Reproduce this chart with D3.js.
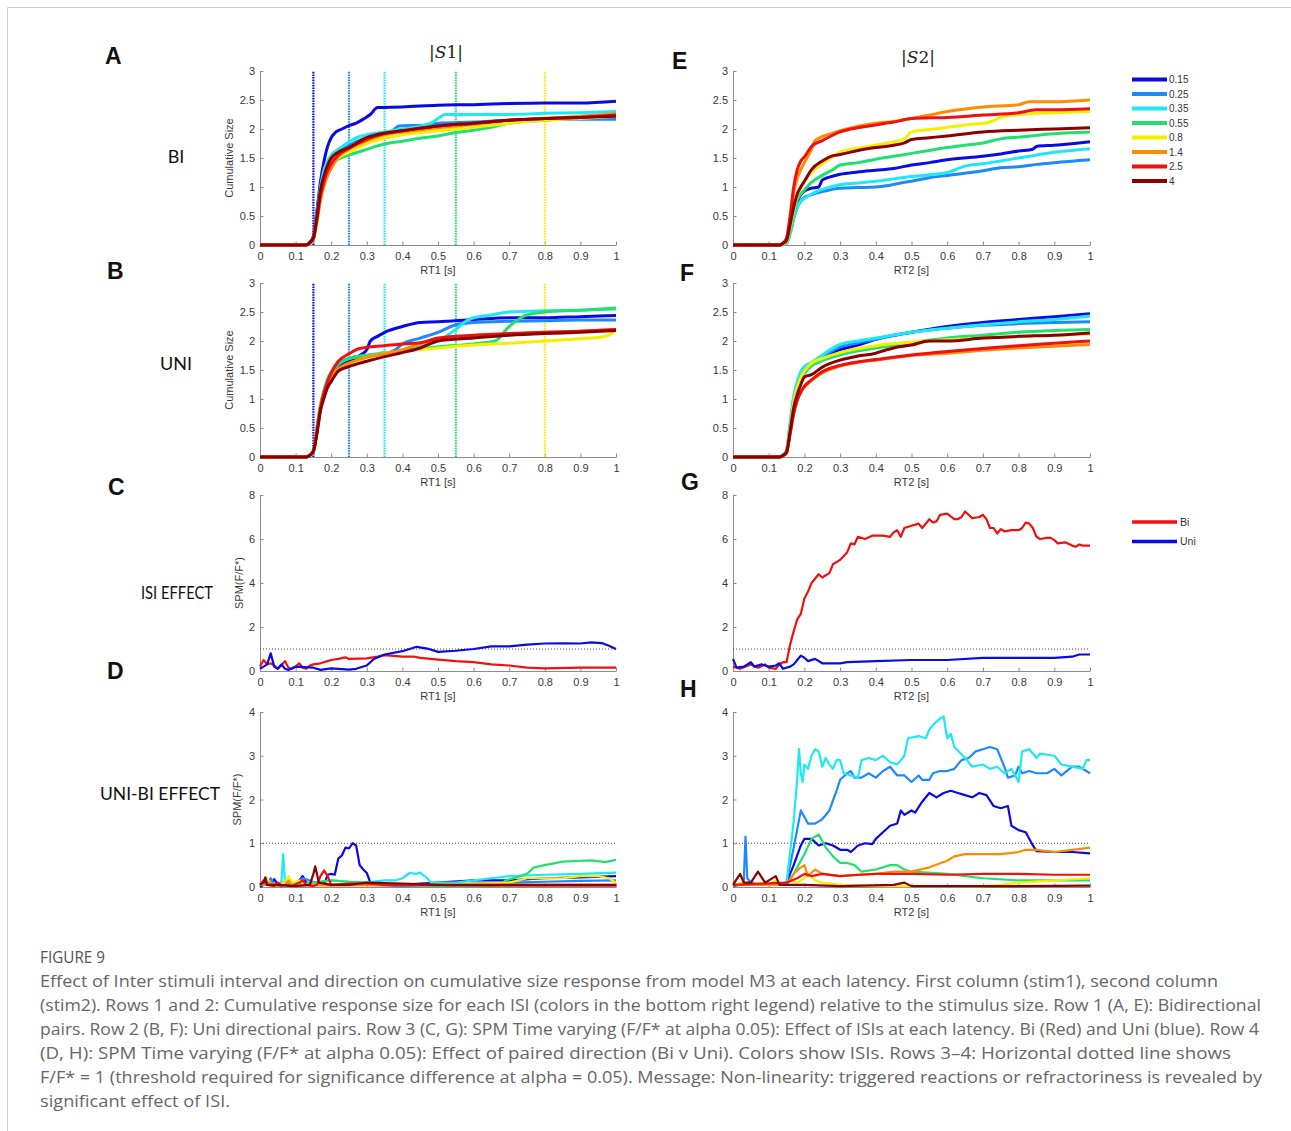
<!DOCTYPE html>
<html lang="en">
<head>
<meta charset="UTF-8">
<title>Figure 9</title>
<script src="https://d3js.org/d3.v7.min.js"></script>
<style>
  body { margin: 0; background: #fff; }
  svg { display: block; font-family: "Liberation Sans", Arial, sans-serif; }
  .axis path, .axis line { stroke: #8c8c8c; }
  .axis text { fill: #383838; font-size: 11px; font-family: "Liberation Sans", Arial, sans-serif; }
</style>
</head>
<body>
<script>
// ISI levels and the colours used for them
const isiLevels = [0.15, 0.25, 0.35, 0.55, 0.8, 1.4, 2.5, 4];
const isiColors = ["#0a0ae6", "#1e88ff", "#1ee8f2", "#22e070", "#f5ef00", "#ff8c00", "#f01010", "#8b0000"];
const xTicks = [0, 0.1, 0.2, 0.3, 0.4, 0.5, 0.6, 0.7, 0.8, 0.9, 1];
const cumTicks = [0, 0.5, 1, 1.5, 2, 2.5, 3];
const spmTicks = [0, 2, 4, 6, 8];
const dirTicks = [0, 1, 2, 3, 4];

// Row 1, S1 : cumulative size, bidirectional
const cumBiS1 = [
  [[0,0],[0.13,0],[0.14,0.05],[0.15,0.15],[0.16,0.6],[0.17,1.1],[0.18,1.45],[0.19,1.7],[0.2,1.85],[0.21,1.93],[0.23,2.0],[0.25,2.06],[0.27,2.1],[0.29,2.17],[0.31,2.25],[0.33,2.37],[0.4,2.38],[0.5,2.41],[0.6,2.42],[0.7,2.44],[0.8,2.45],[0.9,2.45],[1,2.48]],
  [[0,0],[0.13,0],[0.14,0.04],[0.15,0.12],[0.16,0.5],[0.17,0.95],[0.18,1.2],[0.19,1.38],[0.2,1.5],[0.22,1.6],[0.25,1.72],[0.3,1.85],[0.35,1.92],[0.37,1.96],[0.39,2.05],[0.42,2.06],[0.45,2.06],[0.5,2.1],[0.6,2.12],[0.7,2.15],[0.8,2.16],[0.9,2.17],[1,2.17]],
  [[0,0],[0.13,0],[0.14,0.04],[0.15,0.12],[0.16,0.55],[0.17,1.0],[0.18,1.3],[0.19,1.45],[0.2,1.55],[0.22,1.65],[0.25,1.78],[0.28,1.87],[0.3,1.9],[0.35,1.95],[0.4,2.0],[0.45,2.05],[0.48,2.1],[0.5,2.18],[0.52,2.25],[0.6,2.25],[0.7,2.25],[0.8,2.27],[0.9,2.28],[1,2.3]],
  [[0,0],[0.13,0],[0.14,0.03],[0.15,0.1],[0.16,0.45],[0.17,0.85],[0.18,1.1],[0.19,1.28],[0.2,1.38],[0.22,1.48],[0.25,1.55],[0.3,1.65],[0.35,1.74],[0.4,1.79],[0.45,1.84],[0.5,1.88],[0.55,1.94],[0.6,1.98],[0.65,2.03],[0.7,2.1],[0.8,2.15],[0.9,2.2],[1,2.22]],
  [[0,0],[0.13,0],[0.14,0.03],[0.15,0.1],[0.16,0.4],[0.17,0.8],[0.18,1.05],[0.19,1.22],[0.2,1.35],[0.22,1.5],[0.25,1.6],[0.3,1.75],[0.35,1.84],[0.4,1.9],[0.5,1.97],[0.6,2.03],[0.7,2.1],[0.8,2.15],[0.9,2.18],[1,2.22]],
  [[0,0],[0.13,0],[0.14,0.03],[0.15,0.1],[0.16,0.4],[0.17,0.78],[0.18,1.02],[0.19,1.2],[0.2,1.32],[0.22,1.52],[0.25,1.65],[0.3,1.8],[0.35,1.9],[0.4,1.95],[0.5,2.02],[0.6,2.08],[0.7,2.15],[0.8,2.18],[0.9,2.22],[1,2.26]],
  [[0,0],[0.13,0],[0.14,0.04],[0.15,0.12],[0.16,0.45],[0.17,0.85],[0.18,1.1],[0.19,1.28],[0.2,1.4],[0.22,1.55],[0.25,1.67],[0.3,1.82],[0.35,1.92],[0.4,1.97],[0.5,2.05],[0.6,2.1],[0.7,2.15],[0.8,2.18],[0.9,2.2],[1,2.24]],
  [[0,0],[0.13,0],[0.14,0.04],[0.15,0.12],[0.16,0.5],[0.17,0.95],[0.18,1.2],[0.19,1.38],[0.2,1.5],[0.22,1.6],[0.25,1.68],[0.3,1.85],[0.35,1.93],[0.4,1.97],[0.5,2.05],[0.6,2.1],[0.7,2.15],[0.8,2.18],[0.9,2.2],[1,2.22]]
];

// Row 1, S2 : cumulative size, bidirectional
const cumBiS2 = [
  [[0,0],[0.13,0],[0.14,0.02],[0.15,0.05],[0.16,0.25],[0.17,0.55],[0.18,0.75],[0.19,0.87],[0.2,0.93],[0.22,0.98],[0.24,1.0],[0.25,1.12],[0.27,1.17],[0.3,1.22],[0.35,1.26],[0.4,1.29],[0.45,1.32],[0.5,1.38],[0.55,1.42],[0.6,1.47],[0.7,1.53],[0.75,1.57],[0.8,1.62],[0.84,1.65],[0.85,1.7],[0.9,1.72],[1,1.78]],
  [[0,0],[0.13,0],[0.14,0.01],[0.15,0.03],[0.16,0.2],[0.17,0.45],[0.18,0.65],[0.19,0.76],[0.2,0.82],[0.22,0.87],[0.25,0.92],[0.3,0.98],[0.35,0.99],[0.4,1.0],[0.43,1.02],[0.47,1.07],[0.5,1.1],[0.55,1.16],[0.6,1.2],[0.7,1.28],[0.75,1.33],[0.8,1.35],[0.85,1.39],[0.9,1.42],[1,1.47]],
  [[0,0],[0.13,0],[0.14,0.01],[0.15,0.03],[0.16,0.2],[0.17,0.45],[0.18,0.65],[0.19,0.75],[0.2,0.8],[0.22,0.88],[0.25,0.96],[0.3,1.04],[0.35,1.07],[0.4,1.1],[0.45,1.14],[0.5,1.18],[0.55,1.21],[0.6,1.25],[0.65,1.36],[0.7,1.4],[0.75,1.45],[0.8,1.5],[0.85,1.55],[0.9,1.6],[0.95,1.63],[1,1.66]],
  [[0,0],[0.13,0],[0.14,0.02],[0.15,0.05],[0.16,0.25],[0.17,0.55],[0.18,0.78],[0.19,0.88],[0.2,0.95],[0.22,1.08],[0.25,1.2],[0.28,1.3],[0.3,1.38],[0.35,1.42],[0.4,1.48],[0.45,1.53],[0.5,1.58],[0.55,1.63],[0.6,1.68],[0.65,1.72],[0.7,1.76],[0.75,1.83],[0.8,1.86],[0.9,1.92],[1,1.95]],
  [[0,0],[0.13,0],[0.14,0.02],[0.15,0.05],[0.16,0.3],[0.17,0.6],[0.18,0.85],[0.19,1.0],[0.2,1.1],[0.22,1.25],[0.25,1.4],[0.28,1.52],[0.3,1.6],[0.35,1.67],[0.4,1.72],[0.45,1.78],[0.48,1.83],[0.5,1.95],[0.55,1.99],[0.6,2.03],[0.65,2.07],[0.7,2.1],[0.72,2.12],[0.75,2.2],[0.8,2.25],[0.9,2.28],[1,2.3]],
  [[0,0],[0.13,0],[0.14,0.03],[0.15,0.1],[0.16,0.45],[0.17,0.9],[0.18,1.15],[0.19,1.3],[0.2,1.42],[0.22,1.65],[0.23,1.8],[0.25,1.87],[0.28,1.93],[0.3,1.97],[0.35,2.05],[0.4,2.1],[0.45,2.13],[0.5,2.18],[0.55,2.24],[0.6,2.3],[0.7,2.38],[0.8,2.42],[0.83,2.47],[0.9,2.47],[1,2.5]],
  [[0,0],[0.13,0],[0.14,0.03],[0.15,0.12],[0.16,0.5],[0.17,1.0],[0.18,1.3],[0.19,1.45],[0.2,1.52],[0.22,1.7],[0.25,1.8],[0.3,1.95],[0.33,2.0],[0.4,2.07],[0.45,2.12],[0.5,2.18],[0.6,2.2],[0.7,2.24],[0.8,2.28],[0.85,2.33],[0.9,2.33],[1,2.35]],
  [[0,0],[0.13,0],[0.14,0.03],[0.15,0.08],[0.16,0.35],[0.17,0.65],[0.18,0.88],[0.19,1.0],[0.2,1.1],[0.22,1.3],[0.25,1.45],[0.28,1.54],[0.3,1.56],[0.35,1.63],[0.4,1.68],[0.45,1.72],[0.48,1.76],[0.5,1.82],[0.55,1.85],[0.6,1.88],[0.7,1.95],[0.8,1.98],[0.9,2.0],[1,2.02]]
];

// Row 2, S1 : cumulative size, unidirectional
const cumUniS1 = [
  [[0,0],[0.13,0],[0.14,0.03],[0.15,0.1],[0.16,0.45],[0.17,0.85],[0.18,1.1],[0.19,1.28],[0.2,1.4],[0.22,1.55],[0.25,1.65],[0.28,1.75],[0.3,1.85],[0.31,2.0],[0.33,2.08],[0.35,2.15],[0.4,2.25],[0.45,2.32],[0.5,2.33],[0.6,2.37],[0.7,2.4],[0.8,2.4],[0.9,2.42],[1,2.44]],
  [[0,0],[0.13,0],[0.14,0.03],[0.15,0.1],[0.16,0.45],[0.17,0.85],[0.18,1.12],[0.19,1.3],[0.2,1.42],[0.22,1.6],[0.25,1.7],[0.3,1.75],[0.35,1.78],[0.38,1.85],[0.4,1.95],[0.45,2.05],[0.5,2.15],[0.55,2.28],[0.6,2.32],[0.7,2.34],[0.8,2.35],[0.9,2.36],[1,2.36]],
  [[0,0],[0.13,0],[0.14,0.03],[0.15,0.1],[0.16,0.5],[0.17,0.9],[0.18,1.15],[0.19,1.33],[0.2,1.45],[0.22,1.6],[0.25,1.7],[0.3,1.75],[0.35,1.8],[0.4,1.83],[0.45,1.9],[0.5,2.0],[0.55,2.2],[0.58,2.35],[0.6,2.4],[0.65,2.45],[0.7,2.5],[0.8,2.52],[0.9,2.53],[1,2.55]],
  [[0,0],[0.13,0],[0.14,0.03],[0.15,0.1],[0.16,0.5],[0.17,0.9],[0.18,1.15],[0.19,1.35],[0.2,1.47],[0.22,1.6],[0.25,1.7],[0.3,1.75],[0.35,1.78],[0.4,1.82],[0.5,1.9],[0.6,1.95],[0.66,2.0],[0.7,2.25],[0.75,2.45],[0.8,2.5],[0.9,2.53],[1,2.57]],
  [[0,0],[0.13,0],[0.14,0.03],[0.15,0.1],[0.16,0.45],[0.17,0.85],[0.18,1.1],[0.19,1.28],[0.2,1.38],[0.22,1.5],[0.25,1.6],[0.3,1.72],[0.35,1.78],[0.4,1.82],[0.5,1.88],[0.6,1.93],[0.7,1.96],[0.8,2.0],[0.9,2.04],[0.96,2.07],[0.98,2.1],[1,2.2]],
  [[0,0],[0.13,0],[0.14,0.03],[0.15,0.1],[0.16,0.45],[0.17,0.85],[0.18,1.1],[0.19,1.27],[0.2,1.38],[0.22,1.52],[0.25,1.62],[0.3,1.72],[0.35,1.78],[0.4,1.85],[0.45,1.95],[0.5,2.02],[0.6,2.08],[0.7,2.12],[0.8,2.15],[0.9,2.17],[1,2.2]],
  [[0,0],[0.13,0],[0.14,0.03],[0.15,0.1],[0.16,0.45],[0.17,0.85],[0.18,1.12],[0.19,1.3],[0.2,1.45],[0.22,1.65],[0.25,1.78],[0.28,1.87],[0.35,1.92],[0.4,1.95],[0.45,1.97],[0.5,2.05],[0.6,2.1],[0.7,2.13],[0.8,2.15],[0.9,2.17],[1,2.2]],
  [[0,0],[0.13,0],[0.14,0.03],[0.15,0.1],[0.16,0.4],[0.17,0.8],[0.18,1.02],[0.19,1.2],[0.2,1.3],[0.22,1.48],[0.25,1.56],[0.3,1.65],[0.35,1.73],[0.4,1.8],[0.45,1.88],[0.5,2.0],[0.6,2.05],[0.7,2.1],[0.8,2.13],[0.9,2.15],[1,2.18]]
];

// Row 2, S2 : cumulative size, unidirectional
const cumUniS2 = [
  [[0,0],[0.13,0],[0.14,0.03],[0.15,0.1],[0.16,0.5],[0.17,0.95],[0.18,1.2],[0.19,1.35],[0.2,1.45],[0.22,1.6],[0.25,1.72],[0.3,1.85],[0.35,1.93],[0.4,2.03],[0.5,2.15],[0.6,2.25],[0.7,2.32],[0.8,2.37],[0.9,2.42],[1,2.47]],
  [[0,0],[0.13,0],[0.14,0.03],[0.15,0.1],[0.16,0.55],[0.17,1.0],[0.18,1.25],[0.19,1.42],[0.2,1.52],[0.22,1.62],[0.25,1.73],[0.3,1.9],[0.35,1.97],[0.4,2.03],[0.5,2.15],[0.6,2.22],[0.7,2.27],[0.8,2.3],[0.9,2.32],[1,2.33]],
  [[0,0],[0.13,0],[0.14,0.03],[0.15,0.12],[0.16,0.6],[0.17,1.05],[0.18,1.3],[0.19,1.47],[0.2,1.56],[0.22,1.63],[0.25,1.76],[0.3,1.94],[0.35,2.0],[0.4,2.05],[0.5,2.15],[0.6,2.22],[0.7,2.28],[0.8,2.33],[0.9,2.37],[1,2.43]],
  [[0,0],[0.13,0],[0.14,0.03],[0.15,0.1],[0.16,0.5],[0.17,0.95],[0.18,1.2],[0.19,1.35],[0.2,1.45],[0.22,1.57],[0.25,1.66],[0.3,1.76],[0.35,1.83],[0.4,1.88],[0.5,1.97],[0.6,2.05],[0.7,2.1],[0.8,2.15],[0.9,2.18],[1,2.2]],
  [[0,0],[0.13,0],[0.14,0.03],[0.15,0.1],[0.16,0.5],[0.17,0.95],[0.18,1.2],[0.19,1.37],[0.2,1.48],[0.22,1.62],[0.25,1.7],[0.3,1.8],[0.35,1.87],[0.4,1.92],[0.5,1.98],[0.6,2.02],[0.7,2.05],[0.8,2.08],[0.9,2.1],[1,2.12]],
  [[0,0],[0.13,0],[0.14,0.02],[0.15,0.08],[0.16,0.4],[0.17,0.75],[0.18,0.98],[0.19,1.12],[0.2,1.2],[0.22,1.32],[0.25,1.45],[0.3,1.57],[0.35,1.63],[0.4,1.67],[0.5,1.75],[0.6,1.79],[0.7,1.84],[0.8,1.88],[0.9,1.91],[1,1.94]],
  [[0,0],[0.13,0],[0.14,0.02],[0.15,0.08],[0.16,0.4],[0.17,0.75],[0.18,0.98],[0.19,1.12],[0.2,1.22],[0.22,1.33],[0.25,1.47],[0.3,1.58],[0.35,1.64],[0.4,1.68],[0.5,1.76],[0.6,1.82],[0.7,1.87],[0.8,1.92],[0.9,1.96],[1,2.0]],
  [[0,0],[0.13,0],[0.14,0.03],[0.15,0.08],[0.16,0.45],[0.17,0.85],[0.18,1.08],[0.19,1.25],[0.2,1.38],[0.22,1.42],[0.25,1.55],[0.3,1.67],[0.35,1.74],[0.4,1.79],[0.43,1.85],[0.45,1.88],[0.5,1.93],[0.55,2.0],[0.6,2.0],[0.7,2.05],[0.8,2.08],[0.9,2.1],[1,2.14]]
];

// Row 3 : SPM F/F* for the ISI effect, Bi (first) and Uni (second)
const dirNames = ["Bi", "Uni"];
const dirColors = ["#f01010", "#0a0ae6"];
const isiS1 = [
  [[0,0.2],[0.01,0.5],[0.02,0.3],[0.03,0.35],[0.04,0.25],[0.05,0.1],[0.06,0.25],[0.07,0.45],[0.08,0.15],[0.09,0.1],[0.1,0.2],[0.11,0.35],[0.12,0.15],[0.13,0.1],[0.14,0.25],[0.15,0.3],[0.17,0.35],[0.19,0.45],[0.2,0.5],[0.22,0.55],[0.24,0.62],[0.25,0.55],[0.3,0.57],[0.33,0.65],[0.35,0.72],[0.4,0.65],[0.43,0.66],[0.45,0.6],[0.5,0.52],[0.55,0.45],[0.6,0.4],[0.65,0.3],[0.7,0.25],[0.75,0.15],[0.8,0.12],[0.9,0.15],[1,0.15]],
  [[0,0.1],[0.01,0.2],[0.02,0.3],[0.03,0.8],[0.04,0.2],[0.05,0.1],[0.06,0.3],[0.07,0.1],[0.08,0.05],[0.1,0.2],[0.15,0.15],[0.17,0.05],[0.2,0.12],[0.25,0.06],[0.27,0.1],[0.3,0.25],[0.32,0.55],[0.35,0.75],[0.4,0.9],[0.44,1.1],[0.47,1.02],[0.5,0.87],[0.55,0.92],[0.6,1.0],[0.65,1.12],[0.7,1.12],[0.75,1.2],[0.8,1.25],[0.85,1.26],[0.9,1.25],[0.93,1.3],[0.96,1.27],[0.98,1.15],[1,1.0]]
];
const isiS2 = [
  [[0,0.2],[0.02,0.1],[0.05,0.3],[0.07,0.15],[0.09,0.3],[0.1,0.15],[0.12,0.1],[0.13,0.3],[0.14,0.4],[0.15,0.4],[0.16,1.2],[0.17,1.8],[0.18,2.35],[0.19,2.6],[0.2,3.3],[0.21,3.6],[0.22,4.0],[0.24,4.4],[0.25,4.25],[0.26,4.35],[0.27,4.45],[0.28,4.85],[0.3,5.05],[0.32,5.4],[0.33,5.8],[0.34,5.75],[0.35,6.1],[0.37,6.0],[0.39,6.15],[0.42,6.15],[0.44,6.1],[0.45,6.3],[0.46,6.4],[0.47,6.1],[0.48,6.5],[0.5,6.6],[0.52,6.7],[0.53,6.5],[0.55,6.9],[0.56,6.75],[0.57,6.8],[0.58,7.1],[0.6,7.15],[0.62,6.9],[0.63,6.9],[0.64,7.0],[0.65,7.25],[0.66,7.1],[0.67,6.95],[0.69,7.0],[0.7,7.1],[0.71,6.9],[0.72,6.5],[0.73,6.5],[0.74,6.25],[0.75,6.45],[0.76,6.35],[0.78,6.4],[0.8,6.4],[0.81,6.5],[0.82,6.75],[0.83,6.7],[0.84,6.5],[0.85,6.1],[0.86,6.0],[0.88,6.05],[0.89,6.05],[0.9,5.95],[0.91,5.8],[0.93,5.85],[0.95,5.7],[0.96,5.65],[0.97,5.75],[0.98,5.7],[1,5.7]],
  [[0,0.55],[0.01,0.15],[0.03,0.2],[0.05,0.4],[0.06,0.2],[0.08,0.3],[0.1,0.2],[0.12,0.25],[0.13,0.35],[0.14,0.1],[0.16,0.2],[0.17,0.3],[0.18,0.5],[0.19,0.7],[0.2,0.6],[0.21,0.45],[0.23,0.55],[0.25,0.35],[0.27,0.35],[0.3,0.35],[0.32,0.4],[0.4,0.45],[0.5,0.5],[0.6,0.5],[0.7,0.6],[0.8,0.6],[0.9,0.6],[0.95,0.65],[0.97,0.75],[1,0.75]]
];

// Row 4 : SPM F/F* for the paired direction effect, one series per ISI
const dirS1 = [
  [[0,0],[0.01,0.05],[0.02,0.12],[0.03,0.05],[0.04,0.18],[0.05,0.05],[0.06,0.02],[0.08,0.1],[0.1,0.05],[0.11,0.15],[0.12,0.25],[0.13,0.1],[0.15,0.08],[0.17,0.1],[0.18,0.05],[0.19,0.28],[0.2,0.3],[0.21,0.28],[0.22,0.65],[0.23,0.72],[0.24,0.9],[0.25,0.88],[0.26,1.0],[0.27,0.95],[0.28,0.5],[0.29,0.4],[0.3,0.32],[0.31,0.1],[0.33,0.12],[0.35,0.06],[0.4,0.05],[0.45,0.08],[0.5,0.1],[0.6,0.15],[0.7,0.15],[0.8,0.2],[0.9,0.22],[1,0.25]],
  [[0,0.05],[0.02,0.08],[0.03,0.2],[0.04,0.05],[0.06,0.1],[0.1,0.08],[0.11,0.15],[0.12,0.2],[0.14,0.15],[0.16,0.08],[0.2,0.05],[0.3,0.05],[0.4,0.02],[0.5,0.05],[0.6,0.08],[0.7,0.1],[0.8,0.12],[0.9,0.14],[1,0.15]],
  [[0,0.1],[0.02,0.15],[0.04,0.05],[0.06,0.08],[0.065,0.75],[0.07,0.15],[0.08,0.05],[0.1,0.05],[0.15,0.1],[0.2,0.15],[0.25,0.12],[0.3,0.1],[0.35,0.15],[0.38,0.15],[0.4,0.2],[0.42,0.32],[0.44,0.3],[0.45,0.33],[0.47,0.2],[0.48,0.1],[0.55,0.1],[0.6,0.15],[0.65,0.2],[0.7,0.25],[0.8,0.28],[0.9,0.3],[1,0.33]],
  [[0,0.05],[0.05,0.05],[0.1,0.05],[0.15,0.1],[0.2,0.15],[0.25,0.12],[0.3,0.1],[0.4,0.05],[0.5,0.02],[0.6,0.02],[0.67,0.03],[0.69,0.15],[0.72,0.22],[0.75,0.3],[0.77,0.45],[0.8,0.5],[0.85,0.58],[0.9,0.6],[0.93,0.61],[0.97,0.57],[1,0.62]],
  [[0,0.05],[0.02,0.2],[0.03,0.05],[0.05,0.05],[0.07,0.1],[0.08,0.25],[0.09,0.1],[0.11,0.15],[0.13,0.05],[0.2,0.05],[0.3,0.05],[0.5,0.05],[0.7,0.1],[0.75,0.2],[0.8,0.2],[0.85,0.2],[0.9,0.25],[0.95,0.25],[0.98,0.2],[1,0.1]],
  [[0,0.05],[0.03,0.1],[0.05,0.02],[0.07,0.05],[0.08,0.15],[0.09,0.03],[0.12,0.05],[0.2,0.03],[0.4,0.05],[0.6,0.05],[0.8,0.05],[1,0.05]],
  [[0,0.05],[0.01,0.15],[0.02,0.05],[0.04,0.02],[0.05,0.1],[0.06,0.05],[0.09,0.02],[0.11,0.1],[0.12,0.15],[0.13,0.05],[0.15,0.02],[0.16,0.05],[0.17,0.25],[0.18,0.38],[0.19,0.25],[0.2,0.05],[0.25,0.08],[0.3,0.08],[0.35,0.05],[0.5,0.04],[0.7,0.03],[1,0.03]],
  [[0,0.05],[0.01,0.1],[0.015,0.22],[0.02,0.05],[0.05,0.05],[0.1,0.02],[0.14,0.05],[0.15,0.3],[0.155,0.47],[0.16,0.3],[0.165,0.1],[0.2,0.05],[0.25,0.05],[0.3,0.1],[0.4,0.08],[0.5,0.05],[0.7,0.05],[1,0.05]]
];
const dirS2 = [
  [[0,0.05],[0.1,0.05],[0.15,0.1],[0.17,0.5],[0.19,0.95],[0.2,1.1],[0.22,1.1],[0.24,0.95],[0.26,1.0],[0.28,0.95],[0.3,0.85],[0.32,0.85],[0.33,0.8],[0.35,0.95],[0.37,1.0],[0.39,0.98],[0.4,1.1],[0.42,1.25],[0.44,1.4],[0.46,1.45],[0.47,1.75],[0.48,1.65],[0.5,1.75],[0.51,1.7],[0.53,1.95],[0.55,2.15],[0.57,2.05],[0.59,2.15],[0.61,2.2],[0.63,2.15],[0.65,2.1],[0.67,2.05],[0.69,2.15],[0.71,2.1],[0.73,1.85],[0.75,1.8],[0.77,1.85],[0.78,1.4],[0.8,1.3],[0.82,1.25],[0.84,0.95],[0.85,0.82],[0.9,0.8],[0.95,0.8],[1,0.77]],
  [[0,0],[0.03,0.1],[0.035,1.15],[0.04,0.2],[0.05,0.1],[0.1,0.05],[0.15,0.1],[0.17,0.9],[0.19,1.75],[0.2,1.6],[0.21,1.45],[0.23,1.45],[0.25,1.55],[0.27,1.75],[0.29,2.2],[0.3,2.45],[0.32,2.6],[0.33,2.65],[0.34,2.5],[0.36,2.5],[0.38,2.6],[0.4,2.5],[0.42,2.65],[0.44,2.75],[0.46,2.55],[0.48,2.55],[0.5,2.4],[0.52,2.55],[0.53,2.45],[0.55,2.45],[0.56,2.6],[0.58,2.65],[0.6,2.65],[0.62,2.7],[0.64,2.9],[0.66,2.95],[0.68,3.1],[0.7,3.15],[0.72,3.2],[0.74,3.15],[0.76,2.75],[0.77,2.5],[0.79,2.55],[0.8,2.75],[0.81,2.6],[0.83,2.65],[0.85,2.6],[0.88,2.6],[0.9,2.7],[0.92,2.55],[0.95,2.75],[0.97,2.75],[1,2.6]],
  [[0,0.05],[0.1,0.05],[0.15,0.1],[0.17,1.5],[0.18,2.5],[0.185,3.15],[0.19,2.6],[0.195,2.4],[0.2,2.8],[0.21,2.7],[0.22,3.0],[0.23,3.15],[0.24,3.1],[0.25,2.75],[0.26,2.95],[0.27,2.8],[0.28,2.7],[0.29,2.9],[0.3,2.9],[0.31,2.6],[0.33,2.55],[0.35,2.5],[0.36,2.9],[0.38,2.95],[0.4,2.9],[0.42,3.0],[0.44,2.85],[0.46,2.8],[0.48,3.0],[0.49,3.4],[0.52,3.45],[0.54,3.4],[0.55,3.6],[0.56,3.7],[0.58,3.85],[0.59,3.9],[0.6,3.4],[0.61,3.5],[0.62,3.2],[0.65,2.95],[0.67,2.75],[0.7,2.8],[0.72,2.7],[0.74,2.75],[0.76,2.6],[0.78,2.7],[0.8,2.4],[0.81,3.1],[0.83,3.15],[0.85,2.95],[0.86,3.05],[0.9,3.0],[0.92,2.8],[0.95,2.75],[0.98,2.7],[0.99,2.9],[1,2.9]],
  [[0,0.05],[0.15,0.05],[0.17,0.3],[0.2,0.75],[0.22,1.1],[0.24,1.2],[0.26,0.9],[0.28,0.7],[0.3,0.55],[0.32,0.55],[0.34,0.5],[0.36,0.35],[0.4,0.4],[0.44,0.5],[0.46,0.5],[0.48,0.4],[0.5,0.35],[0.6,0.3],[0.7,0.2],[0.8,0.15],[0.9,0.15],[1,0.15]],
  [[0,0.05],[0.03,0.1],[0.05,0.05],[0.07,0.1],[0.1,0.05],[0.12,0.15],[0.14,0.05],[0.16,0.15],[0.18,0.1],[0.2,0.2],[0.21,0.3],[0.23,0.15],[0.25,0.1],[0.3,0.05],[0.4,0.02],[0.7,0.02],[0.75,0.05],[0.8,0.1],[0.9,0.15],[1,0.2]],
  [[0,0.05],[0.15,0.05],[0.17,0.3],[0.19,0.45],[0.2,0.5],[0.21,0.25],[0.23,0.4],[0.25,0.3],[0.3,0.25],[0.4,0.3],[0.45,0.35],[0.5,0.35],[0.55,0.45],[0.6,0.6],[0.62,0.7],[0.65,0.75],[0.7,0.75],[0.75,0.75],[0.8,0.8],[0.82,0.85],[0.85,0.85],[0.9,0.8],[0.95,0.85],[1,0.9]],
  [[0,0.05],[0.15,0.1],[0.18,0.2],[0.2,0.3],[0.22,0.25],[0.25,0.3],[0.3,0.25],[0.35,0.28],[0.4,0.3],[0.5,0.3],[0.6,0.28],[0.7,0.3],[0.8,0.3],[0.9,0.28],[1,0.28]],
  [[0,0.05],[0.02,0.3],[0.03,0.1],[0.05,0.1],[0.07,0.35],[0.09,0.1],[0.12,0.25],[0.13,0.05],[0.2,0.05],[0.3,0.02],[0.45,0.05],[0.48,0.1],[0.5,0.02],[0.6,0.02],[0.8,0.02],[1,0.03]]
];

const captionLines = [
  "Effect of Inter stimuli interval and direction on cumulative size response from model M3 at each latency. First column (stim1), second column",
  "(stim2). Rows 1 and 2: Cumulative response size for each ISI (colors in the bottom right legend) relative to the stimulus size. Row 1 (A, E): Bidirectional",
  "pairs. Row 2 (B, F): Uni directional pairs. Row 3 (C, G): SPM Time varying (F/F* at alpha 0.05): Effect of ISIs at each latency. Bi (Red) and Uni (blue). Row 4",
  "(D, H): SPM Time varying (F/F* at alpha 0.05): Effect of paired direction (Bi v Uni). Colors show ISIs. Rows 3\u20134: Horizontal dotted line shows",
  "F/F* = 1 (threshold required for significance difference at alpha = 0.05). Message: Non-linearity: triggered reactions or refractoriness is revealed by",
  "significant effect of ISI."
];
const captionWidths = [1178, 1221, 1219, 1191, 1222, 190];

// ---- drawing ----
const svg = d3.select("body").append("svg").attr("width", 1291).attr("height", 1131);

// frame of the figure box
svg.append("path").attr("d", "M7.5,1131 V7.5 H1291").attr("fill", "none").attr("stroke", "#cfcfcf");

const fmt = d3.format("~g");
const cols = [{left: 260, right: 616, xlab: "RT1 [s]"}, {left: 733, right: 1090, xlab: "RT2 [s]"}];
const rows = [
  {top: 71, bottom: 245, ymax: 3, ticks: cumTicks},
  {top: 283, bottom: 457, ymax: 3, ticks: cumTicks},
  {top: 495, bottom: 671, ymax: 8, ticks: spmTicks},
  {top: 712, bottom: 887, ymax: 4, ticks: dirTicks}
];

function drawPanel(col, row, series, colors, opt) {
  const x = d3.scaleLinear().domain([0, 1]).range([col.left, col.right]);
  const y = d3.scaleLinear().domain([0, row.ymax]).range([row.bottom, row.top]);
  const g = svg.append("g");

  g.append("g").attr("class", "axis").attr("transform", `translate(0,${row.bottom})`)
    .call(d3.axisBottom(x).tickValues(xTicks).tickFormat(fmt).tickSizeInner(-3.5).tickSizeOuter(0).tickPadding(7));
  g.append("g").attr("class", "axis").attr("transform", `translate(${col.left},0)`)
    .call(d3.axisLeft(y).tickValues(row.ticks).tickFormat(fmt).tickSizeInner(-3.5).tickSizeOuter(0).tickPadding(5));

  g.append("text").attr("x", (col.left + col.right) / 2).attr("y", row.bottom + 29)
    .attr("text-anchor", "middle").attr("font-size", 11).attr("fill", "#383838").text(col.xlab);

  if (opt.ylabel) {
    g.append("text").attr("transform", `translate(${opt.ylx},${(row.top + row.bottom) / 2}) rotate(-90)`)
      .attr("text-anchor", "middle").attr("font-size", 11).attr("fill", "#383838").text(opt.ylabel);
  }

  // vertical dotted ISI markers
  if (opt.markers) {
    isiLevels.forEach((v, i) => {
      if (v > 1) return;
      g.append("line").attr("x1", x(v)).attr("x2", x(v)).attr("y1", y(0)).attr("y2", y(row.ymax))
        .attr("stroke", isiColors[i]).attr("stroke-width", 2.2).attr("stroke-dasharray", "1.6,1");
    });
  }

  // threshold F/F* = 1
  if (opt.threshold) {
    g.append("line").attr("x1", x(0)).attr("x2", x(1)).attr("y1", y(1)).attr("y2", y(1))
      .attr("stroke", "#444").attr("stroke-width", 1).attr("stroke-dasharray", "1,2");
  }

  const line = d3.line().x(d => x(d[0])).y(d => y(d[1])).curve(opt.smooth ? d3.curveMonotoneX : d3.curveLinear);
  g.selectAll("path.series").data(series).enter().append("path").attr("class", "series")
    .attr("d", line).attr("fill", "none").attr("stroke", (d, i) => colors[i])
    .attr("stroke-width", opt.width).attr("stroke-linejoin", "round");
}

drawPanel(cols[0], rows[0], cumBiS1, isiColors, {ylabel: "Cumulative Size", ylx: 233, markers: true, smooth: true, width: 3});
drawPanel(cols[1], rows[0], cumBiS2, isiColors, {smooth: true, width: 3});
drawPanel(cols[0], rows[1], cumUniS1, isiColors, {ylabel: "Cumulative Size", ylx: 233, markers: true, smooth: true, width: 3});
drawPanel(cols[1], rows[1], cumUniS2, isiColors, {smooth: true, width: 3});
drawPanel(cols[0], rows[2], isiS1, dirColors, {ylabel: "SPM(F/F*)", ylx: 243, threshold: true, width: 2.2});
drawPanel(cols[1], rows[2], isiS2, dirColors, {threshold: true, width: 2.2});
drawPanel(cols[0], rows[3], dirS1, isiColors, {ylabel: "SPM(F/F*)", ylx: 241, threshold: true, width: 2.2});
drawPanel(cols[1], rows[3], dirS2, isiColors, {threshold: true, width: 2.2});

// ISI legend (panel E)
const legIsi = svg.append("g");
isiLevels.forEach((v, i) => {
  const yy = 79.5 + i * 14.5;
  legIsi.append("line").attr("x1", 1132).attr("x2", 1167).attr("y1", yy).attr("y2", yy)
    .attr("stroke", isiColors[i]).attr("stroke-width", 4);
  legIsi.append("text").attr("x", 1169).attr("y", yy + 3.5).attr("font-size", 10).attr("fill", "#333").text(fmt(v));
});

// direction legend (panel G)
const legDir = svg.append("g");
dirNames.forEach((n, i) => {
  const yy = 522 + i * 19.5;
  legDir.append("line").attr("x1", 1132).attr("x2", 1177).attr("y1", yy).attr("y2", yy)
    .attr("stroke", dirColors[i]).attr("stroke-width", 3.5);
  legDir.append("text").attr("x", 1180).attr("y", yy + 3.5).attr("font-size", 10.5).attr("fill", "#333").text(n);
});

// column titles |S1| and |S2|
[[446, 58, "1"], [918, 63, "2"]].forEach(t => {
  const tx = svg.append("text").attr("x", t[0]).attr("y", t[1]).attr("text-anchor", "middle")
    .attr("font-family", "'DejaVu Serif', 'Liberation Serif', serif").attr("font-size", 17).attr("fill", "#222");
  tx.append("tspan").text("|");
  tx.append("tspan").attr("font-style", "italic").text("S");
  tx.append("tspan").text(t[2]);
  tx.append("tspan").text("|");
});

// panel letters
const letters = [["A", 105, 64], ["E", 672, 69], ["B", 107, 279], ["F", 680, 281],
                 ["C", 108, 495], ["G", 681, 490], ["D", 107, 679], ["H", 680, 697]];
letters.forEach(l => {
  svg.append("text").attr("x", l[1]).attr("y", l[2]).attr("font-size", 23).attr("font-weight", "bold")
    .attr("font-family", "'Liberation Sans', Arial, sans-serif").attr("fill", "#111").text(l[0]);
});

// row labels
const rowLabels = [["BI", 176, 163, null], ["UNI", 176, 370, null], ["ISI EFFECT", 177, 599, 72], ["UNI-BI EFFECT", 160, 800, 120]];
rowLabels.forEach(r => {
  const t = svg.append("text").attr("x", r[1]).attr("y", r[2]).attr("text-anchor", "middle")
    .attr("font-family", "Lato, 'Open Sans', sans-serif").attr("font-size", 18).attr("fill", "#111").text(r[0]);
  if (r[3]) t.attr("textLength", r[3]).attr("lengthAdjust", "spacingAndGlyphs");
});

// caption
svg.append("text").attr("x", 40).attr("y", 963).attr("font-family", "'Open Sans', sans-serif")
  .attr("font-size", 17).attr("fill", "#555").attr("textLength", 65).attr("lengthAdjust", "spacingAndGlyphs").text("FIGURE 9");
captionLines.forEach((s, i) => {
  svg.append("text").attr("x", 40).attr("y", 987 + i * 24).attr("font-family", "'Open Sans', sans-serif")
    .attr("font-size", 15.5).attr("fill", "#666").attr("textLength", captionWidths[i])
    .attr("lengthAdjust", "spacingAndGlyphs").text(s);
});
</script>
</body>
</html>
